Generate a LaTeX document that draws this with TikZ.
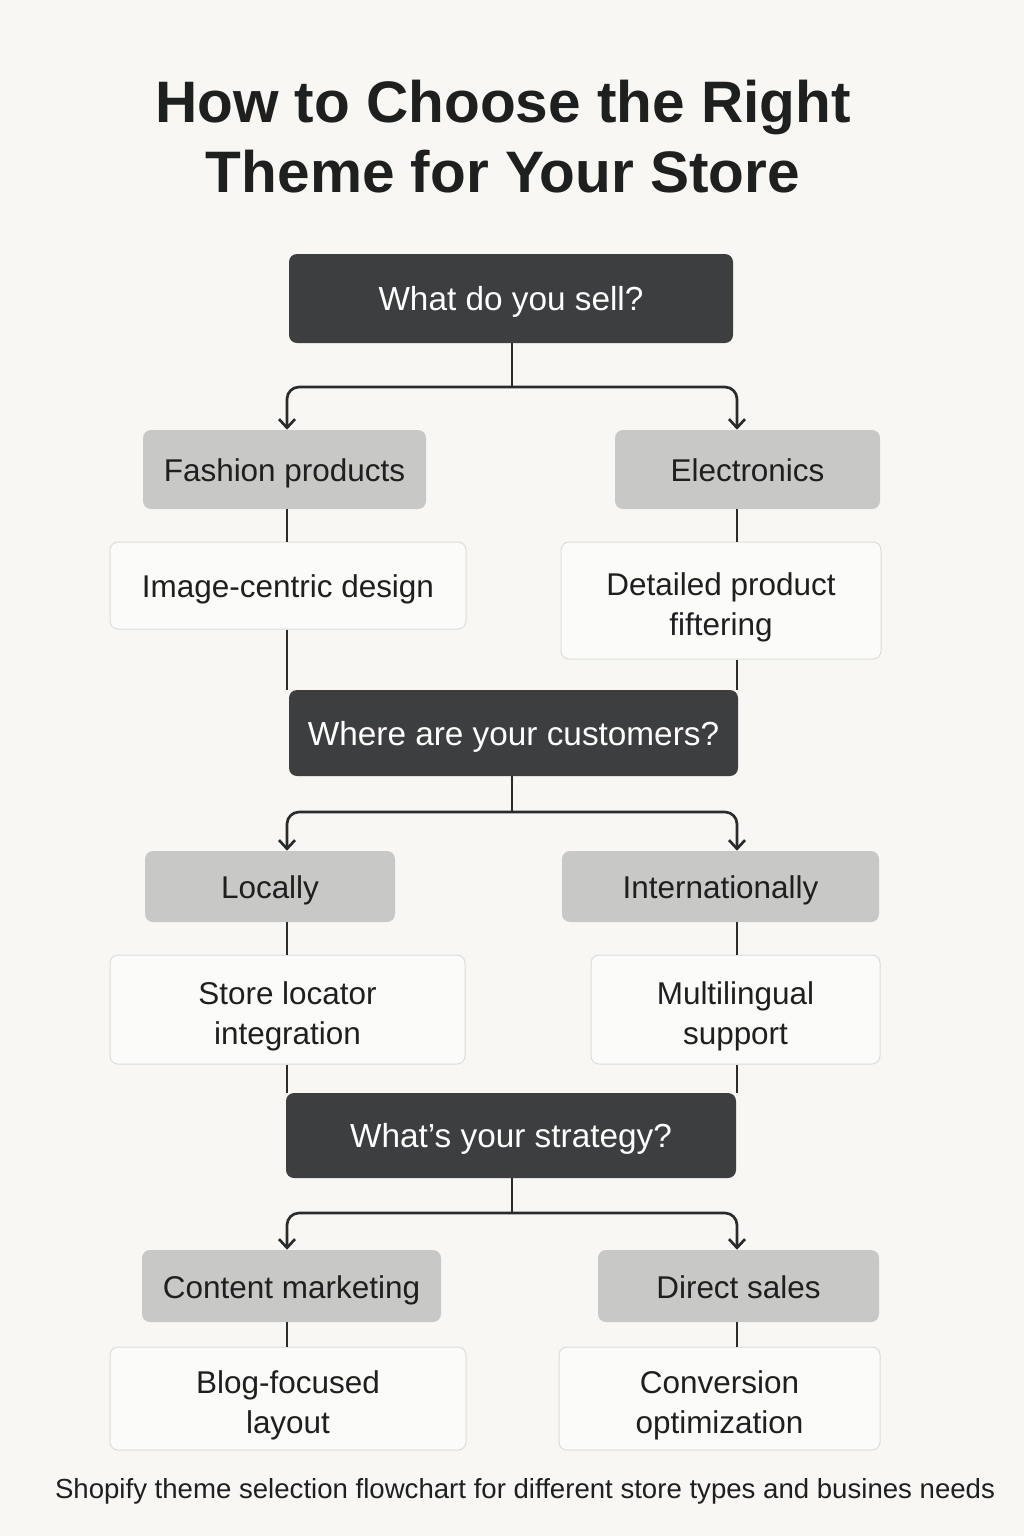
\documentclass[tikz,border=0pt]{standalone}
\usepackage{fontspec}
\setmainfont{Liberation Sans}
\usetikzlibrary{arrows.meta}
\definecolor{bg}{HTML}{F8F7F4}
\definecolor{darkbox}{HTML}{3C3E3F}
\definecolor{graybox}{HTML}{C8C8C6}
\definecolor{wbox}{HTML}{FBFBF9}
\definecolor{wborder}{HTML}{DDDDD8}
\definecolor{ink}{HTML}{1E1F1F}
\definecolor{linec}{HTML}{2A2B2B}
\begin{document}
\begin{tikzpicture}[x=0.75pt,y=-0.75pt,
  boxat/.style n args={4}{at={({(#1+#3)/2},{(#2+#4)/2})}, minimum width={(#3-#1)*0.75pt}, minimum height={(#4-#2)*0.75pt}},
  oneline/.style={text height=18pt, text depth=0pt},
  twoline/.style={text height=52.5pt, text depth=0pt},
  basebox/.style={inner sep=0pt, rounded corners=6pt, align=center, anchor=center},
  darknode/.style={basebox, oneline, fill=darkbox, text=white, font=\fontsize{25}{31}\selectfont},
  graynode/.style={basebox, oneline, fill=graybox, text=ink, font=\fontsize{23.6}{30}\selectfont},
  whitenode/.style={basebox, fill=wbox, draw=wborder, line width=0.75pt, text=ink, font=\fontsize{23.6}{30}\selectfont},
  link/.style={draw=linec, line width=2pt},
  arr/.style={link, rounded corners=9pt, -{Straight Barb[length=6.5pt,width=12pt,line width=2pt]}},
  titletext/.style={font=\fontsize{43.9}{52.5}\selectfont\bfseries, text=ink, align=center, inner sep=0pt},
  captiontext/.style={font=\fontsize{20.7}{24}\selectfont, text=ink, inner sep=0pt}
]
\fill[bg] (0,0) rectangle (1024,1536);
\useasboundingbox (0,0) rectangle (1024,1536);

\node[titletext] (title) at (503,137) {How to Choose the Right\\Theme for Your Store};

\coordinate (cL) at (287,0);
\coordinate (cR) at (737,0);

% level 1
\node[darknode, boxat={289}{254}{733}{343}] (q1) {What do you sell?};
\node[graynode, boxat={143}{430}{426}{509}] (fash) {Fashion products};
\node[graynode, boxat={615}{430}{880}{509}] (elec) {Electronics};
\node[whitenode, oneline, boxat={110}{542}{466}{629}] (img) {Image-centric design};
\node[whitenode, twoline, boxat={561}{542}{881}{659}] (filt) {Detailed product\\fiftering};

% level 2
\node[darknode, boxat={289}{690}{738}{776}] (q2) {Where are your customers?};
\node[graynode, boxat={145}{851}{395}{922}] (loc) {Locally};
\node[graynode, boxat={562}{851}{879}{922}] (intl) {Internationally};
\node[whitenode, twoline, boxat={110}{955}{465}{1064}] (storeloc) {Store locator\\integration};
\node[whitenode, twoline, boxat={591}{955}{880}{1064}] (multi) {Multilingual\\support};

% level 3
\node[darknode, boxat={286}{1093}{736}{1178}] (q3) {What’s your strategy?};
\node[graynode, boxat={142}{1250}{441}{1322}] (cont) {Content marketing};
\node[graynode, boxat={598}{1250}{879}{1322}] (direct) {Direct sales};
\node[whitenode, twoline, boxat={110}{1347}{466}{1450}] (blog) {Blog-focused\\layout};
\node[whitenode, twoline, boxat={559}{1347}{880}{1450}] (conv) {Conversion\\optimization};

\node[captiontext] (caption) at (525,1491) {Shopify theme selection flowchart for different store types and busines needs};

% junctions
\coordinate (j1) at (512,387);
\coordinate (j2) at (512,812);
\coordinate (j3) at (512,1213);

% split 1
\draw[link] (q1.south -| j1) -- (j1);
\draw[arr] (j1) -| (fash.north -| cL);
\draw[arr] (j1) -| (elec.north -| cR);
\draw[link] (fash.south -| cL) -- (img.north -| cL);
\draw[link] (elec.south -| cR) -- (filt.north -| cR);
\draw[link] (img.south -| cL) -- (q2.north -| cL);
\draw[link] (filt.south -| cR) -- (q2.north -| cR);

% split 2
\draw[link] (q2.south -| j2) -- (j2);
\draw[arr] (j2) -| (loc.north -| cL);
\draw[arr] (j2) -| (intl.north -| cR);
\draw[link] (loc.south -| cL) -- (storeloc.north -| cL);
\draw[link] (intl.south -| cR) -- (multi.north -| cR);
\draw[link] (storeloc.south -| cL) -- (q3.north -| cL);
\draw[link] (multi.south -| cR) -- (q3.north -| cR);

% split 3
\draw[link] (q3.south -| j3) -- (j3);
\draw[arr] (j3) -| (cont.north -| cL);
\draw[arr] (j3) -| (direct.north -| cR);
\draw[link] (cont.south -| cL) -- (blog.north -| cL);
\draw[link] (direct.south -| cR) -- (conv.north -| cR);
\end{tikzpicture}
\end{document}
